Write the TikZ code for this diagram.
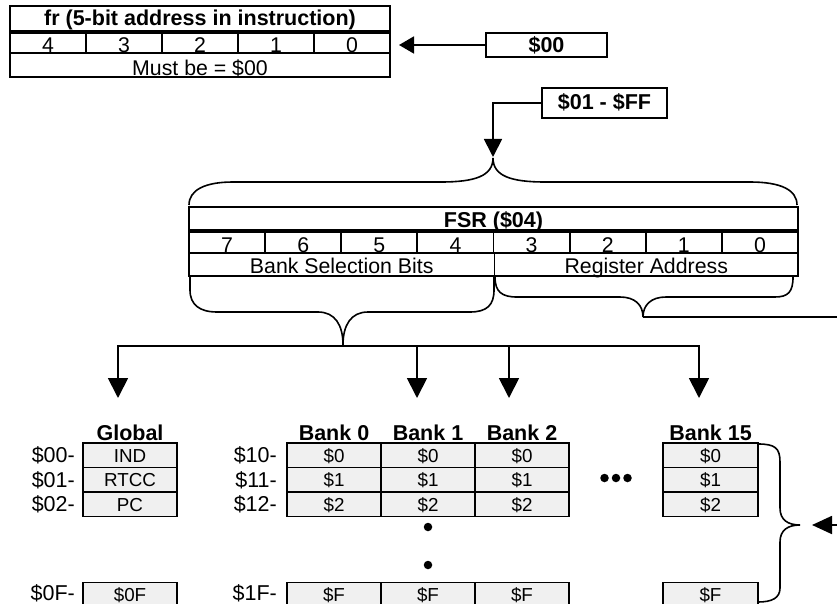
\documentclass[tikz,border=0pt]{standalone}
\usepackage{fontspec}
\setmainfont{Liberation Sans}
\usetikzlibrary{arrows.meta,calc}
\definecolor{cellfill}{HTML}{F0F0F0}
\begin{document}
\begin{tikzpicture}[x=1pt,y=-1pt,
  box/.style={draw, line width=1.8pt, inner sep=0pt, text depth=0pt, anchor=center},
  bigtxt/.style={font=\fontsize{21.3}{24}\selectfont},
  boldtxt/.style={font=\fontsize{21.5}{24}\selectfont\bfseries},
  celltxt/.style={font=\fontsize{18.8}{22}\selectfont},
  memcell/.style={box, fill=cellfill, minimum width=94pt, minimum height=24.5pt, text height=14pt, celltxt},
  rowlab/.style={anchor=base east, inner sep=0pt, font=\fontsize{21.5}{24}\selectfont},
  colhead/.style={anchor=base, inner sep=0pt, boldtxt},
  brace/.style={line width=1.6pt},
  conn/.style={line width=1.8pt},
  arrdown/.style={conn, -{Triangle[length=20pt,width=20pt]}},
  dotmark/.style={circle, fill=black, inner sep=0pt, minimum size=8.5pt},
]
\useasboundingbox (0,0) rectangle (837,604);
\clip (0,0) rectangle (837,604);

% ---------- fr table ----------
\node[box, boldtxt, minimum width=380pt, minimum height=25pt, text height=15pt] (frt) at (200,18.5) {fr (5-bit address in instruction)};
\foreach \i/\x in {4/48,3/124,2/200,1/276,0/352}
  \node[box, bigtxt, minimum width=76pt, minimum height=20pt, text height=19pt] (frb\i) at (\x,43) {\i};
\node[box, bigtxt, minimum width=380pt, minimum height=24pt, text height=22pt] (frm) at (200,65) {Must be = \$00};

\node[box, boldtxt, minimum width=121pt, minimum height=24pt, text height=16pt] (d00) at (546.5,45) {\$00};
\coordinate (frin) at (399,45);
\draw[conn, -{Triangle[length=15pt,width=17pt]}] (d00.west) -- (frin);

\node[box, boldtxt, minimum width=125pt, minimum height=30pt, text height=14pt] (d01) at (604.5,103) {\$01 - \$FF};
\coordinate (fsrtip) at (493,157);
\draw[conn, -{Triangle[length=18pt,width=18pt]}] (d01.west) -| (fsrtip);

% ---------- top brace over FSR ----------
\draw[brace] (189,205) .. controls (189,190) and (205,182) .. (233,182) -- (441,182)
  .. controls (475,182) and (493,176) .. (493,158)
  .. controls (493,176) and (511,182) .. (545,182) -- (750,182)
  .. controls (781,182) and (797,190) .. (797,205);

% ---------- FSR table ----------
\node[box, boldtxt, minimum width=609pt, minimum height=23pt, text height=17pt] (fsrt) at (493.5,218.5) {FSR (\$04)};
\foreach \i/\x in {7/227.06,6/303.19,5/379.31,4/455.44,3/531.56,2/607.69,1/683.81,0/759.94}
  \node[box, bigtxt, minimum width=76.125pt, minimum height=21pt, text height=19pt] (fsrb\i) at (\x,242.5) {\i};
\node[box, bigtxt, minimum width=305.5pt, minimum height=23pt, text height=18pt] (bsb) at (341.75,264.5) {Bank Selection Bits};
\node[box, bigtxt, minimum width=303.5pt, minimum height=23pt, text height=18pt] (rga) at (646.25,264.5) {Register Address};

% ---------- lower braces ----------
\draw[brace] (190,276) -- (190,290) .. controls (190,305) and (200,312) .. (217,312) -- (318,312)
  .. controls (335,312) and (343,325) .. (343,345)
  .. controls (343,325) and (351,312) .. (368,312) -- (470,312)
  .. controls (487,312) and (494,305) .. (494,290) -- (494,276);
\draw[brace] (495,277) .. controls (495,292) and (502,297) .. (517,297) -- (620,297)
  .. controls (635,297) and (643,305) .. (643,317)
  .. controls (643,305) and (651,297) .. (666,297) -- (775,297)
  .. controls (788,297) and (793,292) .. (793,277);
\coordinate (rtip) at (643,317);
\coordinate (rend) at (837,317);
\draw[conn] (rtip) -- (rend);

% ---------- distribution arrows ----------
\coordinate (h0) at (118,346);
\coordinate (h1) at (417,346);
\coordinate (h2) at (509,346);
\coordinate (h3) at (699,346);
\coordinate (a0) at (118,398);
\coordinate (a1) at (417,398);
\coordinate (a2) at (509,398);
\coordinate (a3) at (699,398);
\draw[conn, {Triangle[length=20pt,width=20pt]}-{Triangle[length=20pt,width=20pt]}] (a0) -- (h0) -- (h3) -- (a3);
\draw[arrdown] (h1) -- (a1);
\draw[arrdown] (h2) -- (a2);

% ---------- memory columns ----------
\node[colhead] (hg) at (130,440) {Global};
\node[colhead] (hb0) at (334,440) {Bank 0};
\node[colhead] (hb1) at (428,440) {Bank 1};
\node[colhead] (hb2) at (522,440) {Bank 2};
\node[colhead] (hb15) at (710.5,440) {Bank 15};

% Global
\node[memcell] (g0) at (130,455.25) {IND};
\node[memcell] (g1) at (130,479.75) {RTCC};
\node[memcell] (g2) at (130,504.25) {PC};
\node[memcell] (gf) at (130,594.75) {\$0F};
\node[rowlab] (lg0) at (75,462.5) {\$00-};
\node[rowlab] (lg1) at (75,487) {\$01-};
\node[rowlab] (lg2) at (75,511.5) {\$02-};
\node[rowlab] (lgf) at (75,600.5) {\$0F-};

% Banks 0-2
\foreach \b/\x in {0/334,1/428,2/522} {
  \node[memcell] (b\b r0) at (\x,455.25) {\$0};
  \node[memcell] (b\b r1) at (\x,479.75) {\$1};
  \node[memcell] (b\b r2) at (\x,504.25) {\$2};
  \node[memcell] (b\b rf) at (\x,594.75) {\$F};
}
\node[rowlab] (lb0) at (277,462.5) {\$10-};
\node[rowlab] (lb1) at (277,487) {\$11-};
\node[rowlab] (lb2) at (277,511.5) {\$12-};
\node[rowlab] (lbf) at (277,600.5) {\$1F-};

% Bank 15
\node[memcell, minimum width=95pt] (b15r0) at (710.5,455.25) {\$0};
\node[memcell, minimum width=95pt] (b15r1) at (710.5,479.75) {\$1};
\node[memcell, minimum width=95pt] (b15r2) at (710.5,504.25) {\$2};
\node[memcell, minimum width=95pt] (b15rf) at (710.5,594.75) {\$F};

% dots
\node[dotmark] (hd1) at (604.5,478) {};
\node[dotmark] (hd2) at (616,478) {};
\node[dotmark] (hd3) at (627.5,478) {};
\node[dotmark] (vd1) at (428,527) {};
\node[dotmark] (vd2) at (428,565) {};

% ---------- right brace and arrow ----------
\draw[brace] (758,444) .. controls (775,444) and (780,448) .. (780,462) -- (780,508)
  .. controls (780,520) and (788,525) .. (800,525)
  .. controls (788,525) and (780,530) .. (780,542) -- (780,588)
  .. controls (780,598) and (772,602) .. (758,602);
\coordinate (btip) at (812,525);
\coordinate (bend) at (837,525);
\draw[conn, -{Triangle[length=20pt,width=18pt]}] (bend) -- (btip);
\end{tikzpicture}
\end{document}
